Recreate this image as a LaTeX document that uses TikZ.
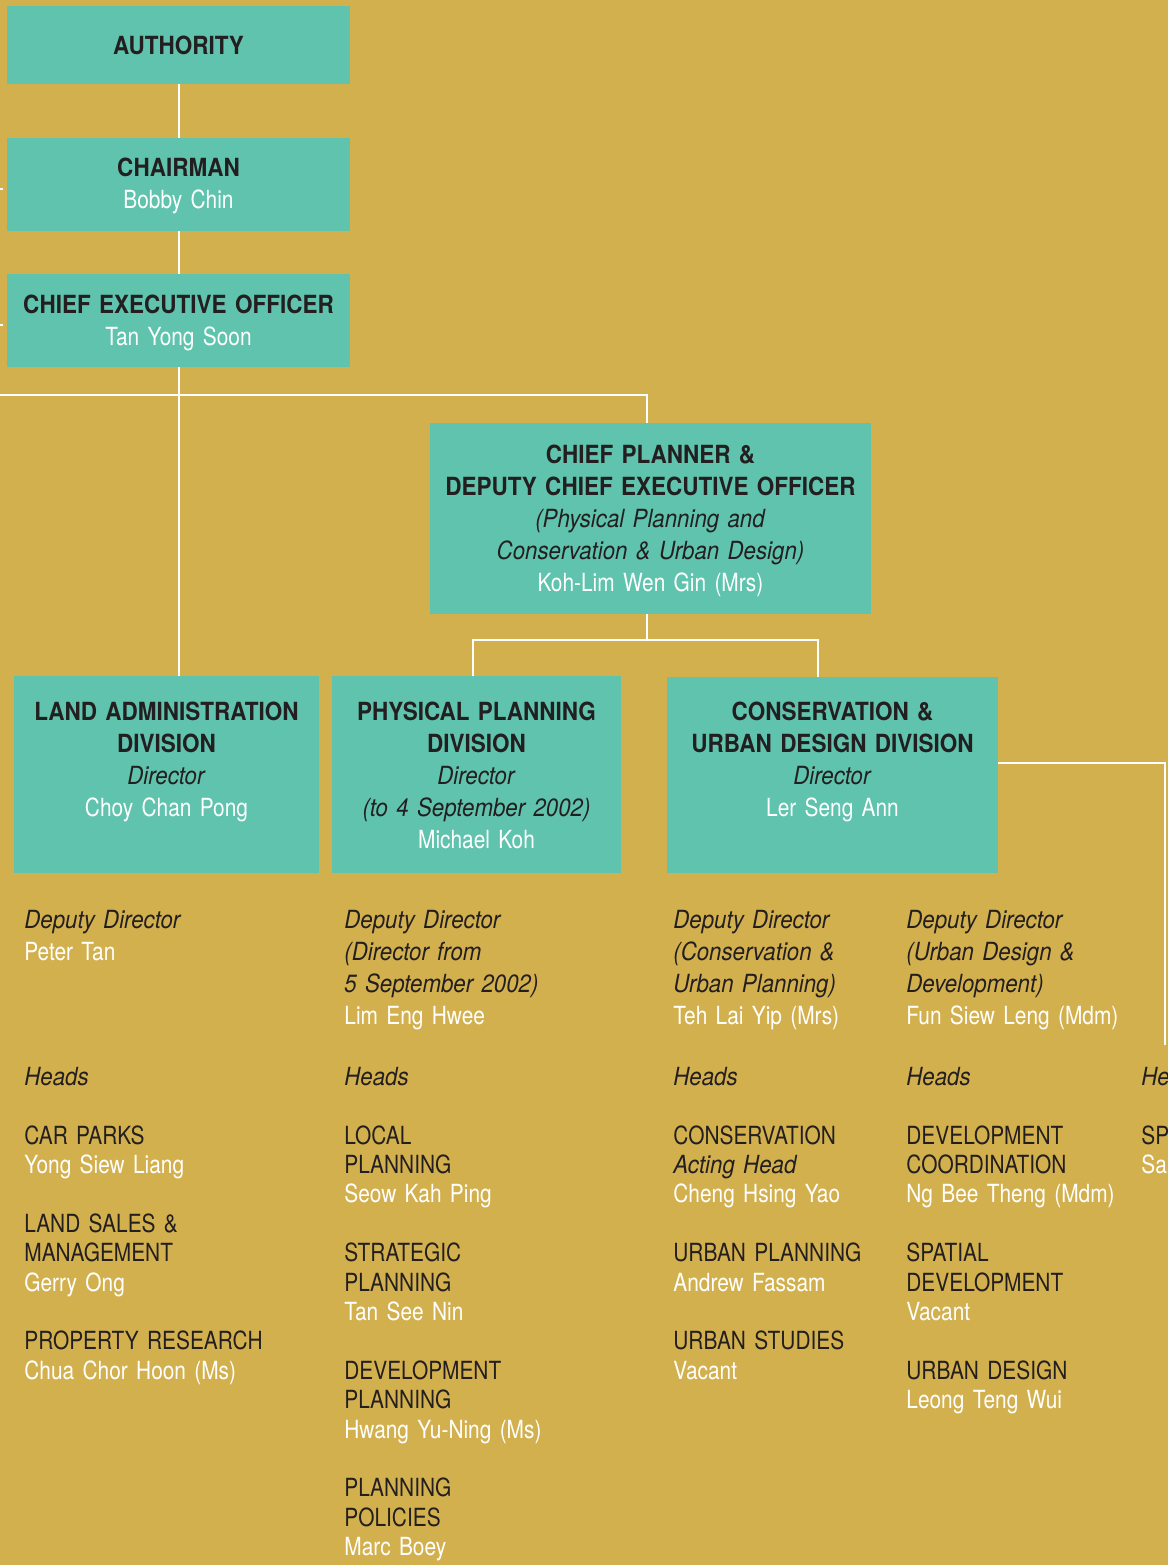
\documentclass[tikz,border=0pt]{standalone}
\usepackage{fontspec}
\setmainfont{TeX Gyre Heros}[
  UprightFeatures={FakeStretch=0.835},
  ItalicFeatures={FakeStretch=0.89},
  BoldFeatures={FakeStretch=0.90}]
\definecolor{ochre}{HTML}{D3B04E}
\definecolor{teal2}{HTML}{5FC3AD}
\definecolor{ink}{HTML}{231F20}
\newcommand{\pname}[1]{\textcolor{white}{#1}}

\begin{document}
\begin{tikzpicture}[x=0.5pt,y=-0.5pt,
    box/.style={fill=teal2,inner sep=0},
    boxtext/.style={anchor=base,inner sep=0,text=ink,align=center,text width=#1,font=\fontsize{12.5}{16}\selectfont},
    col/.style={anchor=base west,inner sep=0,text=ink,align=left,text width=135pt,font=\fontsize{12.5}{16}\selectfont},
    list/.style={col,font=\fontsize{12.5}{14.7}\selectfont},
    link/.style={white,line width=1pt}]

        % Background
        \useasboundingbox (0,0) rectangle (1168,1565);
        \fill[ochre] (0,0) rectangle (1168,1565);
        \clip (0,0) rectangle (1168,1565);

        % Boxes
        \node[box,minimum width=171.5pt,minimum height=39pt] (auth) at (178.5,45) {};
        \node[box,minimum width=171.5pt,minimum height=46.5pt] (chair) at (178.5,184.5) {};
        \node[box,minimum width=171.5pt,minimum height=46.5pt] (ceo) at (178.5,320.5) {};
        \node[box,minimum width=220.5pt,minimum height=95.5pt] (cp) at (650.5,518.5) {};
        \node[box,minimum width=152.5pt,minimum height=98.5pt] (la) at (166.5,774.5) {};
        \node[box,minimum width=144.5pt,minimum height=98.5pt] (pp) at (476.5,774.5) {};
        \node[box,minimum width=165.5pt,minimum height=98pt] (cud) at (832.5,775) {};

        % Connectors
        \coordinate (ladrop) at (ceo.south |- la.north);
        \coordinate (offl) at (0,395);
        \coordinate (cpin) at ([xshift=-1.75pt]cp.north);
        \coordinate (cpout) at ([xshift=-1.75pt]cp.south);
        \coordinate (ppin) at ([xshift=-1.75pt]pp.north);
        \coordinate (cudtop) at (818,677);
        \coordinate (cudout) at (998,763);
        \coordinate (offr) at (1165,1045);
        \draw[link] (auth) -- (chair);
        \draw[link] (chair) -- (ceo);
        \draw[link] (ceo.south) -- (ladrop);
        \draw[link] (offl) -| (cpin);
        \draw[link] (cpout) -- ++(0,26) coordinate (split);
        \draw[link] (split) -| (ppin);
        \draw[link] (split) -| (cudtop);
        \draw[link] (cudout) -| (offr);
        \draw[link] (0,189) -- (3,189);
        \draw[link] (0,325) -- (3,325);

        % Box texts
        \node[boxtext=165pt] (authtxt) at (178.5,54) {\textbf{AUTHORITY}};
        \node[boxtext=165pt] (chairtxt) at (178.5,176) {\textbf{CHAIRMAN}\\\pname{Bobby Chin}};
        \node[boxtext=165pt] (ceotxt) at (178.5,313) {\textbf{CHIEF EXECUTIVE OFFICER}\\\pname{Tan Yong Soon}};
        \node[boxtext=215pt] (cptxt) at (650.5,463.3) {\textbf{CHIEF PLANNER \&}\\\textbf{DEPUTY CHIEF EXECUTIVE OFFICER}\\
          \textit{(Physical Planning and}\\\textit{Conservation \& Urban Design)}\\\pname{Koh-Lim Wen Gin (Mrs)}};
        \node[boxtext=150pt] (latxt) at (166.5,720) {\textbf{LAND ADMINISTRATION}\\\textbf{DIVISION}\\
          \textit{Director}\\\pname{Choy Chan Pong}};
        \node[boxtext=140pt] (pptxt) at (476.5,720) {\textbf{PHYSICAL PLANNING}\\\textbf{DIVISION}\\
          \textit{Director}\\\textit{(to 4 September 2002)}\\\pname{Michael Koh}};
        \node[boxtext=160pt] (cudtxt) at (832.5,720) {\textbf{CONSERVATION \&}\\\textbf{URBAN DESIGN DIVISION}\\
          \textit{Director}\\\pname{Ler Seng Ann}};

        % Deputy directors
        \node[col] (dep1) at (24,928) {\textit{Deputy Director}\\\pname{Peter Tan}};
        \node[col] (dep2) at (344,928) {\textit{Deputy Director}\\\textit{(Director from}\\
          \textit{5 September 2002)}\\\pname{Lim Eng Hwee}};
        \node[col] (dep3) at (673,928) {\textit{Deputy Director}\\\textit{(Conservation \&}\\
          \textit{Urban Planning)}\\\pname{Teh Lai Yip (Mrs)}};
        \node[col] (dep4) at (906,928) {\textit{Deputy Director}\\\textit{(Urban Design \&}\\
          \textit{Development)}\\\pname{Fun Siew Leng (Mdm)}};

        % Heads
        \node[col] (heads1) at (24,1085) {\textit{Heads}};
        \node[col] (heads2) at (344,1085) {\textit{Heads}};
        \node[col] (heads3) at (673,1085) {\textit{Heads}};
        \node[col] (heads4) at (906,1085) {\textit{Heads}};
        \node[col] (heads5) at (1141,1085) {\textit{He}};

        % Units
        \node[list] (list1) at (24,1144) {CAR PARKS\\\pname{Yong Siew Liang}\\[14.7pt]
          LAND SALES \&\\MANAGEMENT\\\pname{Gerry Ong}\\[14.7pt]
          PROPERTY RESEARCH\\\pname{Chua Chor Hoon (Ms)}};
        \node[list] (list2) at (344,1144) {LOCAL\\PLANNING\\\pname{Seow Kah Ping}\\[14.7pt]
          STRATEGIC\\PLANNING\\\pname{Tan See Nin}\\[14.7pt]
          DEVELOPMENT\\PLANNING\\\pname{Hwang Yu-Ning (Ms)}\\[14.7pt]
          PLANNING\\POLICIES\\\pname{Marc Boey}};
        \node[list] (list3) at (673,1144) {CONSERVATION\\\textit{Acting Head}\\\pname{Cheng Hsing Yao}\\[14.7pt]
          URBAN PLANNING\\\pname{Andrew Fassam}\\[14.7pt]
          URBAN STUDIES\\\pname{Vacant}};
        \node[list] (list4) at (906,1144) {DEVELOPMENT\\COORDINATION\\\pname{Ng Bee Theng (Mdm)}\\[14.7pt]
          SPATIAL\\DEVELOPMENT\\\pname{Vacant}\\[14.7pt]
          URBAN DESIGN\\\pname{Leong Teng Wui}};
        \node[list] (list5) at (1141,1144) {SP\\\pname{Sal}};
      \end{tikzpicture}
\end{document}
